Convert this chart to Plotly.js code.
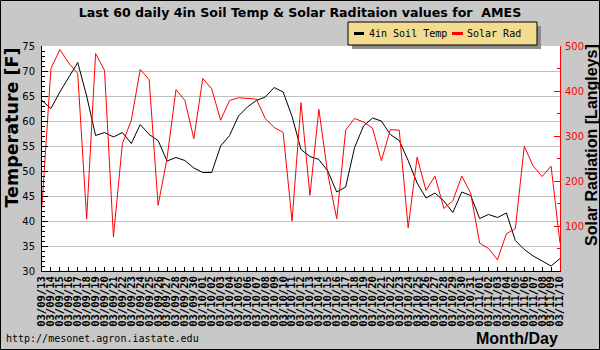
<!DOCTYPE html>
<html>
<head>
<meta charset="utf-8">
<script src="https://cdn.plot.ly/plotly-3.0.1.min.js"></script>
<style>html,body{margin:0;padding:0;background:#c8c8c8;}#chart{width:600px;height:350px;}</style>
</head>
<body>
<div id="chart"></div>
<script>
const dates = [
  "03/09/13","03/09/14","03/09/15","03/09/16","03/09/17","03/09/18","03/09/19","03/09/20","03/09/21","03/09/22",
  "03/09/23","03/09/24","03/09/25","03/09/26","03/09/27","03/09/28","03/09/29","03/09/30",
  "03/10/01","03/10/02","03/10/03","03/10/04","03/10/05","03/10/06","03/10/07","03/10/08","03/10/09","03/10/10",
  "03/10/11","03/10/12","03/10/13","03/10/14","03/10/15","03/10/16","03/10/17","03/10/18","03/10/19","03/10/20",
  "03/10/21","03/10/22","03/10/23","03/10/24","03/10/25","03/10/26","03/10/27","03/10/28","03/10/29","03/10/30","03/10/31",
  "03/11/01","03/11/02","03/11/03","03/11/04","03/11/05","03/11/06","03/11/07","03/11/08","03/11/09","03/11/10"
];
const soilTemp = [
  64.1, 62.5, 65.8, 68.8, 71.7, 65.0, 57.1, 57.7, 56.8, 57.7,
  55.5, 59.3, 57.3, 56.1, 52.0, 52.7, 52.1, 50.6, 49.7, 49.7,
  55.0, 57.1, 61.0, 62.8, 64.1, 64.8, 66.7, 65.8, 60.9, 54.3,
  52.9, 52.3, 50.0, 45.8, 46.8, 54.7, 59.0, 60.6, 60.0, 57.3,
  56.1, 52.1, 47.6, 44.6, 45.6, 44.0, 41.7, 45.8, 45.1, 40.5,
  41.3, 40.7, 41.6, 36.1, 34.3, 33.0, 32.0, 31.0, 32.5
];
const solarRad = [
  146, 450, 492, 462, 439, 116, 483, 446, 76, 283,
  335, 448, 425, 146, 250, 403, 379, 294, 428, 405,
  335, 379, 385, 383, 382, 339, 319, 308, 111, 374,
  168, 359, 216, 116, 313, 339, 331, 318, 245, 314,
  313, 96, 253, 179, 211, 139, 156, 211, 173, 62,
  50, 25, 83, 94, 277, 233, 210, 233, 62
];
const tempTicks = [30, 35, 40, 45, 50, 55, 60, 65, 70, 75];
const radTicks = [100, 200, 300, 400, 500];
const seriesNames = ["4in Soil Temp", "Solar Rad"];
const titleText = "Last 60 daily 4in Soil Temp & Solar Raditaion values for  AMES";

// pixel -> paper helpers (plot area: x 42..560, y 46..271)
const L = 42, R = 560, T = 46, B = 271;
const px = x => (x - L) / (R - L);
const py = y => (B - y) / (B - T);

const traces = [
  {x: dates, y: soilTemp, type: 'scatter', mode: 'lines', name: seriesNames[0],
   line: {color: '#000000', width: 1}, yaxis: 'y'},
  {x: dates, y: solarRad, type: 'scatter', mode: 'lines', name: seriesNames[1],
   line: {color: '#ff0000', width: 1}, yaxis: 'y2'}
];

const layout = {
  width: 600, height: 350,
  paper_bgcolor: '#c8c8c8', plot_bgcolor: '#ffffff',
  margin: {l: L, r: 600 - R, t: T, b: 350 - B, pad: 0},
  showlegend: false,
  title: {text: titleText, font: {family: 'DejaVu Sans', size: 12.6, color: '#000', weight: 'bold'},
          x: 0.5, xref: 'container', xanchor: 'center', y: 1 - 13 / 350, yref: 'container', yanchor: 'middle'},
  xaxis: {type: 'category', range: [0, dates.length - 1], tickmode: 'linear', tick0: 0, dtick: 1,
          showgrid: false, zeroline: false,
          showline: true, linecolor: '#000', linewidth: 1,
          ticks: 'inside', ticklen: 4, tickcolor: '#000', tickangle: -90,
          tickfont: {family: 'DejaVu Sans Mono', size: 10.5, color: '#000', weight: 'bold'}},
  yaxis: {range: [30, 75], tickvals: tempTicks, showgrid: true, gridcolor: '#c0c0c0', gridwidth: 1,
          zeroline: false, showline: true, linecolor: '#000', linewidth: 1,
          ticks: 'inside', ticklen: 6, tickcolor: '#000', ticklabelstandoff: 4,
          tickfont: {family: 'DejaVu Sans', size: 10, color: '#000'},
          minor: {dtick: 1, tick0: 30, ticks: 'inside', ticklen: 3, tickcolor: '#000', showgrid: false}},
  yaxis2: {overlaying: 'y', side: 'right', range: [0, 500], tickvals: radTicks, showgrid: false,
           zeroline: false, showline: true, linecolor: '#ff0000', linewidth: 1,
           ticks: 'inside', ticklen: 6, tickcolor: '#ff0000', ticklabelstandoff: 2,
           tickfont: {family: 'DejaVu Sans', size: 10, color: '#ff0000'},
           minor: {dtick: 50, tick0: 0, ticks: 'inside', ticklen: 3, tickcolor: '#ff0000', showgrid: false}},
  shapes: [
    {type: 'rect', xref: 'paper', yref: 'paper', x0: px(0.5), x1: px(599.5), y0: py(0.5), y1: py(349.5),
     line: {color: '#000', width: 1}, fillcolor: 'rgba(0,0,0,0)', layer: 'above'},
    {type: 'rect', xref: 'paper', yref: 'paper', x0: px(352), x1: px(541), y0: py(26), y1: py(49),
     line: {width: 0}, fillcolor: '#8c8c8c', layer: 'above'},
    {type: 'rect', xref: 'paper', yref: 'paper', x0: px(348), x1: px(537), y0: py(22), y1: py(45),
     line: {color: '#000', width: 1}, fillcolor: '#f3dc8f', layer: 'above'},
    {type: 'line', xref: 'paper', yref: 'paper', x0: px(354), x1: px(364), y0: py(33.5), y1: py(33.5),
     line: {color: '#000', width: 3}, layer: 'above'},
    {type: 'line', xref: 'paper', yref: 'paper', x0: px(452), x1: px(463), y0: py(33.5), y1: py(33.5),
     line: {color: '#ff0000', width: 3}, layer: 'above'}
  ],
  annotations: [
    {text: seriesNames[0], xref: 'paper', yref: 'paper', x: px(367), y: py(33.5), xanchor: 'left', yanchor: 'middle',
     showarrow: false, font: {family: 'DejaVu Sans Mono', size: 10, color: '#000'}},
    {text: seriesNames[1], xref: 'paper', yref: 'paper', x: px(465), y: py(33.5), xanchor: 'left', yanchor: 'middle',
     showarrow: false, font: {family: 'DejaVu Sans Mono', size: 10, color: '#000'}},
    {text: 'Temperature [F]', xref: 'paper', yref: 'paper', x: px(11.5), y: py(128), xanchor: 'center', yanchor: 'middle',
     textangle: -90, showarrow: false, font: {family: 'DejaVu Sans', size: 17.5, color: '#000', weight: 'bold'}},
    {text: 'Solar Radiation [Langleys]', xref: 'paper', yref: 'paper', x: px(591), y: py(145), xanchor: 'center', yanchor: 'middle',
     textangle: -90, showarrow: false, font: {family: 'Liberation Sans', size: 16, color: '#000', weight: 'bold'}},
    {text: 'http://mesonet.agron.iastate.edu', xref: 'paper', yref: 'paper', x: px(4), y: py(338), xanchor: 'left', yanchor: 'middle',
     showarrow: false, font: {family: 'DejaVu Sans Mono', size: 10, color: '#000'}},
    {text: 'Month/Day', xref: 'paper', yref: 'paper', x: px(560), y: py(338), xanchor: 'right', yanchor: 'middle',
     showarrow: false, font: {family: 'Liberation Sans', size: 16, color: '#000', weight: 'bold'}}
  ]
};

Plotly.newPlot('chart', traces, layout, {staticPlot: true, displayModeBar: false});
</script>
</body>
</html>
